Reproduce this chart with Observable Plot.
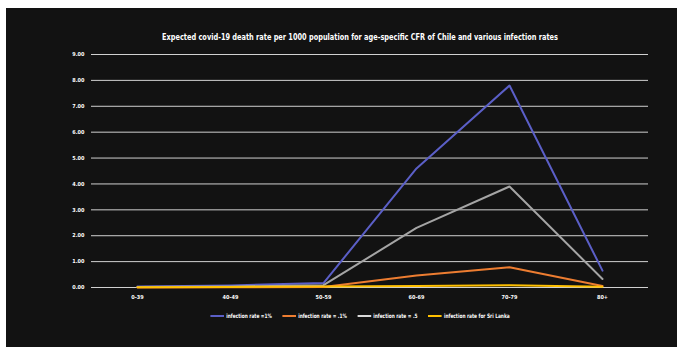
<!DOCTYPE html>
<html>
<head>
<meta charset="utf-8">
<script src="https://cdn.jsdelivr.net/npm/d3@7"></script>
<script src="https://cdn.jsdelivr.net/npm/@observablehq/plot@0.6"></script>
<style>
  html, body { margin: 0; padding: 0; background: #fff; width: 677px; height: 347px; overflow: hidden; }
  #panel { position: absolute; left: 6px; top: 8px; width: 671px; height: 339px; background: #121212; }
  #chart { position: absolute; left: 0; top: 0; }
  .f { font-family: "DejaVu Sans Condensed", "Liberation Sans Narrow", sans-serif; font-weight: bold; color: #fff; }
  #title { position: absolute; left: 0; width: 720px; top: 31px; text-align: center; font-size: 9.5px; white-space: nowrap; transform: scaleX(0.77); transform-origin: 360px 0; }
  #legend { position: absolute; left: 160px; width: 400px; top: 312px; display: flex; justify-content: center; gap: 13px; font-size: 6px; align-items: center; transform: scaleX(0.8); transform-origin: 200px 0; }
  #legend .item { display: flex; align-items: center; gap: 3px; }
  #legend .sw { width: 17px; height: 2px; }
</style>
</head>
<body>
<div id="panel"></div>
<div id="chart"></div>
<div id="title" class="f"></div>
<div id="legend" class="f"></div>
<script>
const titleText = "Expected covid-19 death rate per 1000 population for age-specific CFR of Chile and various infection rates";
const ages = ["0-39", "40-49", "50-59", "60-69", "70-79", "80+"];
const seriesNames = ["infection rate =1%", "infection rate = .1%", "infection rate = .5", "infection rate for Sri Lanka"];
const seriesColors = ["#5b5fc7", "#ed7d31", "#a5a5a5", "#ffc000"];
const swatchColors = ["#5b5fc7", "#ed7d31", "#d9d9d9", "#ffc000"];
const rate1 = [0.04, 0.08, 0.17, 4.6, 7.8, 0.65];
const rate01 = [0.004, 0.008, 0.017, 0.46, 0.78, 0.06];
const rate05 = [0.02, 0.04, 0.09, 2.3, 3.9, 0.33];
const sriLanka = [0.01, 0.02, 0.04, 0.06, 0.09, 0.03];
const yTicks = [0, 1, 2, 3, 4, 5, 6, 7, 8, 9];

const allSeries = [rate1, rate01, rate05, sriLanka];
const rows = [];
allSeries.forEach((vals, si) => vals.forEach((v, i) => rows.push({age: ages[i], value: v, series: seriesNames[si]})));

const font = '"DejaVu Sans Condensed", "Liberation Sans Narrow", sans-serif';
const chart = Plot.plot({
  width: 677,
  height: 347,
  marginTop: 54,
  marginBottom: 60,
  marginLeft: 91,
  marginRight: 29,
  style: {background: "transparent", color: "#fff", fontFamily: font, fontWeight: "bold", fontSize: "5.5px"},
  x: {type: "point", domain: ages, padding: 0.47, label: null},
  y: {domain: [0, 9], ticks: yTicks, label: null},
  color: {domain: seriesNames, range: seriesColors},
  marks: [
    Plot.ruleY(yTicks, {stroke: "#d0d0d0", strokeWidth: 1}),
    Plot.axisY({ticks: yTicks, tickSize: 0, tickPadding: 7, tickFormat: d => d.toFixed(2), label: null, fill: "#fff"}),
    Plot.axisX({tickSize: 0, tickPadding: 8, label: null, fill: "#fff"}),
    Plot.line(rows, {x: "age", y: "value", z: "series", stroke: "series", strokeWidth: 2})
  ]
});
document.getElementById("chart").appendChild(chart);

document.getElementById("title").textContent = titleText;
const legend = document.getElementById("legend");
seriesNames.forEach((name, i) => {
  const item = document.createElement("div");
  item.className = "item";
  const sw = document.createElement("div");
  sw.className = "sw";
  sw.style.background = swatchColors[i];
  const t = document.createElement("span");
  t.textContent = name;
  item.appendChild(sw);
  item.appendChild(t);
  legend.appendChild(item);
});
</script>
</body>
</html>
